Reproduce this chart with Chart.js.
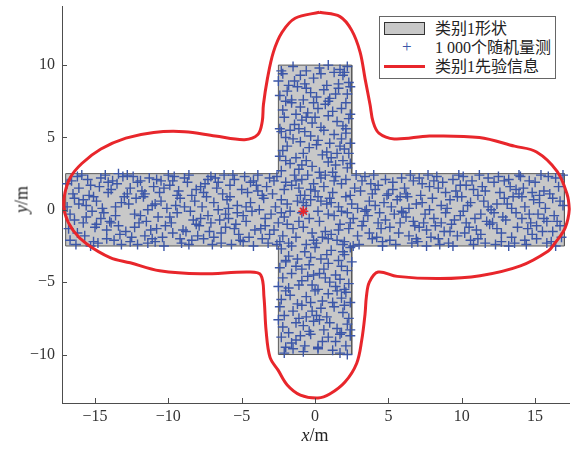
<!DOCTYPE html>
<html lang="zh">
<head>
<meta charset="UTF-8">
<title>类别1形状与随机量测</title>
<script src="https://cdn.jsdelivr.net/npm/chart.js@4.4.1/dist/chart.umd.min.js"></script>
<style>
  html, body { margin: 0; padding: 0; background: #fff; }
  #wrap { position: relative; width: 577px; height: 458px; }
  #chart { position: absolute; left: 0; top: 0; }
  .serif { font-family: "Liberation Serif", "Noto Sans CJK SC", serif; color: #222; }
  #legend { position: absolute; left: 379px; top: 16px; width: 177px; height: 63px;
    border: 1px solid #666; background: #fff; box-sizing: border-box; font-size: 16px; }
  #legend .row { position: absolute; left: 0; width: 100%; height: 19px; line-height: 19px; }
  #legend .lbl { position: absolute; left: 55px; top: 0; white-space: nowrap; }
  #legend .patch { position: absolute; left: 4px; top: 3px; width: 41px; height: 13px;
    background: #c8c8c8; border: 1px solid #333; box-sizing: border-box; }
  #legend .plus { position: absolute; left: 22px; top: -1px; color: #3b56a8; font-size: 17px; }
  #legend .redline { position: absolute; left: 4px; top: 8px; width: 41px; height: 3px; background: #e8262b; }
  #xtitle { position: absolute; left: 290px; top: 425px; width: 50px; text-align: center; font-size: 18px; }
  #ytitle { position: absolute; left: -3px; top: 189px; width: 50px; text-align: center; font-size: 18px;
    transform: rotate(-90deg); }
</style>
</head>
<body>
<div id="wrap">
  <canvas id="chart" width="577" height="458"></canvas>
  <div id="legend" class="serif">
    <div class="row" style="top:2px"><span class="patch"></span><span class="lbl">类别1形状</span></div>
    <div class="row" style="top:21px"><span class="plus">+</span><span class="lbl">1 000个随机量测</span></div>
    <div class="row" style="top:40px"><span class="redline"></span><span class="lbl">类别1先验信息</span></div>
  </div>
  <div id="xtitle" class="serif"><i>x</i>/m</div>
  <div id="ytitle" class="serif"><i>y</i>/m</div>
</div>

<script>
  // axis ticks
  const tickX = [-15, -10, -5, 0, 5, 10, 15];
  const tickY = [-10, -5, 0, 5, 10];

  // cross shape outline (closed)
  const shapeX = [-17, -17, -2.5, -2.5, 2.5, 2.5, 17, 17, 2.5, 2.5, -2.5, -2.5, -17];
  const shapeY = [-2.5, 2.5, 2.5, 10, 10, 2.5, 2.5, -2.5, -2.5, -10, -10, -2.5, -2.5];

  // prior information contour (clockwise from the top)
  const priorX = [0.3, 1.7, 2.5, 3.07, 3.41, 3.75, 3.95, 4.35, 5.4, 7.8, 11.2, 13.6, 15.1, 16.5, 17.18, 17.33,
    17.04, 16.36, 15.9, 14.0, 11.25, 8.5, 5.6, 4.3, 3.7, 3.5, 3.41, 3.18, 2.84, 2.04, 1.0, 0.2,
    -1.0, -1.9, -2.52, -3.07, -3.34, -3.48, -3.7, -4.5, -7.8, -10.6, -12.6, -13.97, -15.56, -16.47, -17.04,
    -17.11, -16.7, -15.9, -14.6, -12.9, -11.0, -8.9, -6.8, -4.8, -3.9, -3.6, -3.52, -3.25, -2.84, -2.25, -1.36, 0.3];
  const priorY = [13.65, 13.35, 12.4, 10.9, 9.05, 7.26, 6.1, 5.3, 4.9, 5.1, 5.0, 4.4, 4.0, 2.66, 1.08, 0.05,
    -1.26, -2.29, -2.84, -3.87, -4.55, -4.75, -4.6, -4.3, -5.0, -6.0, -7.17, -9.02, -10.6, -11.9, -12.73, -13.0,
    -12.8, -12.1, -11.08, -10.2, -8.33, -6.06, -4.5, -4.3, -4.42, -4.21, -3.66, -3.3, -2.36, -1.46, -0.3,
    0.82, 2.2, 3.2, 4.2, 4.95, 5.35, 5.4, 5.1, 4.85, 5.2, 6.1, 7.26, 9.05, 10.9, 12.27, 13.24, 13.65];

  // prior centre (red star)
  const centreX = [-0.8];
  const centreY = [-0.1];

  // random measurements [x, y]
  const measPoints = [
    [-16.9,1.8],[-16.4,-0.7],[-16.2,2.3],[-16.7,-2.1],[-16.1,0.4],[-16.8,-1.3],[-16.5,1.1],[-16.3,-2.4],[-16.9,0.2],[-16.6,2.0],[-16.2,-1.6],[-16.4,0.8],[-16.7,-0.3],[-16.1,1.5],
    [-15.8,-0.9],[-15.3,1.7],[-15.1,-2.2],[-15.6,0.3],[-15.9,2.4],[-15.2,-0.1],[-15.7,-1.8],[-15.4,1.0],[-15.0,-1.2],[-15.5,2.1],[-15.8,0.7],[-15.3,-2.5],[-15.1,0.9],[-15.6,-0.5],
    [-14.9,0.6],[-14.2,-1.4],[-14.6,2.2],[-14.1,1.2],[-14.8,-2.3],[-14.4,-0.2],[-14.7,1.6],[-14.0,-0.8],[-14.3,2.4],[-14.9,-1.0],[-14.5,0.1],[-14.2,-2.0],[-14.6,-0.6],[-14.1,1.9],
    [-13.7,-2.1],[-13.2,0.5],[-13.9,1.4],[-13.4,-1.1],[-13.1,2.3],[-13.6,-0.4],[-13.8,2.0],[-13.3,-1.7],[-13.0,0.9],[-13.5,1.8],[-13.9,-0.9],[-13.2,-2.4],[-13.6,0.2],[-13.4,2.5],
    [-12.8,1.1],[-12.3,-0.3],[-12.6,-2.2],[-12.1,1.9],[-12.9,-1.5],[-12.4,2.3],[-12.7,0.4],[-12.0,-0.9],[-12.5,-1.9],[-12.2,0.8],[-12.8,2.4],[-12.3,-1.2],[-12.6,1.5],[-12.1,-2.4],
    [-11.9,-0.4],[-11.3,2.2],[-11.6,-1.8],[-11.1,0.3],[-11.8,1.3],[-11.4,-2.3],[-11.7,0.9],[-11.0,1.6],[-11.5,-0.8],[-11.2,-1.4],[-11.9,2.0],[-11.4,0.0],[-11.6,1.1],[-11.1,-2.0],
    [-10.8,2.1],[-10.2,-1.1],[-10.5,0.6],[-10.9,-2.2],[-10.3,1.5],[-10.7,-0.5],[-10.0,2.4],[-10.4,-1.9],[-10.6,1.2],[-10.1,0.1],[-10.8,-1.3],[-10.3,-2.5],[-10.5,2.0],[-10.9,0.4],
    [-9.7,-1.6],[-9.2,0.8],[-9.9,1.7],[-9.4,-0.2],[-9.1,-2.3],[-9.6,2.3],[-9.8,-0.9],[-9.3,1.3],[-9.0,-1.4],[-9.5,0.3],[-9.7,2.0],[-9.2,-2.0],[-9.4,1.0],[-9.9,-0.5],
    [-8.9,0.2],[-8.4,-2.1],[-8.1,1.4],[-8.6,2.4],[-8.3,-0.7],[-8.8,-1.5],[-8.2,0.6],[-8.7,1.9],[-8.0,-1.8],[-8.5,-0.1],[-8.9,2.2],[-8.4,1.0],[-8.6,-2.4],[-8.1,-1.0],
    [-7.8,1.6],[-7.3,-0.4],[-7.6,-2.0],[-7.1,2.3],[-7.9,-1.1],[-7.4,0.9],[-7.7,0.2],[-7.0,-2.4],[-7.5,1.8],[-7.2,-1.5],[-7.8,-0.6],[-7.3,2.1],[-7.6,1.2],[-7.1,-0.9],
    [-6.9,-1.9],[-6.3,1.1],[-6.6,0.0],[-6.1,-1.2],[-6.8,2.2],[-6.4,-2.3],[-6.7,1.5],[-6.0,0.7],[-6.5,-0.7],[-6.2,2.4],[-6.9,0.5],[-6.4,-1.6],[-6.6,1.9],[-6.1,-0.3],
    [-5.8,0.9],[-5.2,-1.7],[-5.5,2.1],[-5.9,-0.6],[-5.3,0.3],[-5.7,-2.4],[-5.0,1.4],[-5.4,-1.0],[-5.6,2.4],[-5.1,-2.1],[-5.8,1.7],[-5.3,-0.2],[-5.5,-1.3],[-5.9,0.1],
    [-4.7,-0.8],[-4.2,2.0],[-4.9,-2.2],[-4.4,0.5],[-4.1,-1.4],[-4.6,1.2],[-4.8,2.3],[-4.3,-0.1],[-4.0,1.7],[-4.5,-1.9],[-4.7,0.2],[-4.2,-2.5],[-4.4,1.9],[-4.9,-0.4],
    [-3.9,1.3],[-3.4,-0.6],[-3.1,2.2],[-3.6,-2.0],[-3.8,0.0],[-3.3,1.6],[-3.7,-1.3],[-3.0,-0.3],[-3.5,0.8],[-3.2,-2.3],[-3.9,2.4],[-3.4,-1.1],[-3.6,1.0],[-3.1,-1.7],
    [-2.8,-1.4],[-2.3,0.7],[-2.6,2.3],[-2.1,-0.5],[-2.9,1.1],[-2.4,-2.2],[-2.7,0.2],[-2.0,1.9],[-2.5,-0.9],[-2.2,-1.8],[-2.8,2.0],[-2.3,-0.2],[-2.6,-2.4],[-2.1,1.4],
    [-1.9,0.4],[-1.3,-1.9],[-1.6,1.7],[-1.1,-0.8],[-1.8,-2.3],[-1.4,2.4],[-1.7,-0.1],[-1.0,1.0],[-1.5,-1.3],[-1.2,0.6],[-1.9,-1.0],[-1.3,2.0],[-1.6,-2.5],[-1.1,1.5],
    [-0.8,-1.2],[-0.3,1.4],[-0.6,0.3],[-0.1,-2.1],[-0.9,2.1],[-0.4,-0.6],[-0.7,1.0],[-0.2,-1.6],[-0.5,2.4],[-0.9,-0.2],[-0.3,0.7],[-0.6,-2.4],[-0.1,1.8],[-0.8,0.5],
    [0.2,0.9],[0.7,-1.5],[0.4,2.2],[0.9,-0.3],[0.1,-2.3],[0.6,1.6],[0.3,-0.8],[0.8,0.4],[0.5,-1.9],[0.0,1.3],[0.7,2.4],[0.2,-0.1],[0.9,-2.0],[0.4,0.6],
    [1.3,-0.4],[1.8,1.8],[1.1,-1.7],[1.6,0.2],[1.9,-2.4],[1.4,2.3],[1.0,0.8],[1.7,-1.0],[1.2,1.2],[1.5,-2.1],[1.8,-0.1],[1.3,2.0],[1.6,-1.4],[1.1,0.5],
    [2.1,2.1],[2.6,-0.6],[2.4,1.0],[2.9,-1.8],[2.2,-0.2],[2.7,1.5],[2.0,-2.2],[2.5,0.4],[2.8,2.4],[2.3,-1.3],[2.6,-2.5],[2.1,0.9],[2.9,0.1],[2.4,-0.9],
    [3.2,-1.1],[3.7,0.6],[3.4,2.3],[3.9,-2.0],[3.1,1.3],[3.6,-0.4],[3.0,-2.4],[3.8,1.8],[3.3,-0.8],[3.5,0.0],[3.9,1.1],[3.2,2.0],[3.7,-1.6],[3.4,-0.1],
    [4.1,0.3],[4.6,-2.2],[4.3,1.7],[4.8,-0.7],[4.0,2.4],[4.5,-1.3],[4.9,1.0],[4.2,-1.9],[4.7,0.5],[4.4,-0.2],[4.1,1.4],[4.8,2.1],[4.6,-2.5],[4.3,-0.9],
    [5.3,1.9],[5.8,-0.9],[5.1,-2.1],[5.6,0.7],[5.9,2.2],[5.4,-0.3],[5.0,1.1],[5.7,-1.6],[5.2,0.2],[5.5,-2.4],[5.9,-0.1],[5.3,1.4],[5.8,0.9],[5.1,-1.2],
    [6.2,-0.5],[6.7,2.0],[6.4,-1.8],[6.9,0.4],[6.1,1.5],[6.6,-2.3],[6.3,0.9],[6.8,-1.1],[6.0,-0.2],[6.5,2.4],[6.2,1.1],[6.9,-2.0],[6.4,0.1],[6.7,-0.8],
    [7.1,2.2],[7.6,-1.4],[7.3,0.5],[7.8,1.6],[7.0,-2.2],[7.5,-0.3],[7.9,-1.9],[7.2,1.0],[7.7,2.4],[7.4,-0.9],[7.1,-1.2],[7.8,0.0],[7.3,1.8],[7.6,-2.5],
    [8.4,-2.0],[8.9,1.2],[8.1,-0.6],[8.6,0.3],[8.3,2.3],[8.8,-1.5],[8.0,0.8],[8.5,-2.4],[8.7,1.9],[8.2,-1.1],[8.9,-0.2],[8.4,1.5],[8.6,-0.9],[8.1,2.0],
    [9.2,0.7],[9.7,-1.8],[9.4,2.1],[9.9,-0.4],[9.1,-2.3],[9.6,1.3],[9.3,-1.0],[9.8,2.4],[9.0,0.1],[9.5,-0.7],[9.7,0.9],[9.2,-1.5],[9.4,-2.5],[9.9,1.7],
    [10.3,-0.9],[10.8,1.4],[10.1,2.3],[10.6,-2.1],[10.4,0.3],[10.9,-0.6],[10.2,-1.6],[10.7,2.0],[10.0,0.9],[10.5,-1.2],[10.8,-2.4],[10.3,1.7],[10.6,0.5],[10.1,-0.1],
    [11.1,1.0],[11.6,-2.3],[11.3,-0.3],[11.8,2.2],[11.0,-1.4],[11.5,0.6],[11.9,-1.0],[11.2,2.4],[11.7,-0.8],[11.4,1.6],[11.1,-2.0],[11.8,0.2],[11.3,-1.7],[11.6,1.3],
    [12.4,-1.3],[12.9,0.8],[12.2,1.9],[12.7,-2.2],[12.0,0.0],[12.5,2.3],[12.8,-0.5],[12.3,-2.4],[12.6,1.2],[12.1,-0.9],[12.9,2.0],[12.4,0.4],[12.7,-1.6],[12.2,-0.2],
    [13.2,2.1],[13.7,-0.2],[13.4,-1.9],[13.9,1.1],[13.1,0.4],[13.6,-2.3],[13.3,1.6],[13.8,-1.2],[13.0,-0.7],[13.5,0.9],[13.9,2.4],[13.2,-2.5],[13.7,1.4],[13.4,0.1],
    [14.3,0.2],[14.8,-1.7],[14.1,-0.6],[14.6,2.0],[14.4,-2.4],[14.9,0.7],[14.2,1.5],[14.7,-0.9],[14.0,2.3],[14.5,-1.3],[14.8,1.2],[14.3,-2.1],[14.6,-0.3],[14.1,0.9],
    [15.1,-2.0],[15.6,1.3],[15.3,0.5],[15.8,-0.8],[15.0,1.9],[15.5,-1.5],[15.9,2.3],[15.2,-0.3],[15.7,0.1],[15.4,2.4],[15.1,-1.1],[15.8,-2.3],[15.3,1.0],[15.6,-0.6],
    [16.2,0.8],[16.7,-1.1],[16.4,2.2],[16.9,0.3],[16.1,-2.2],[16.6,1.6],[16.3,-0.4],[16.8,-1.9],[16.0,1.1],[16.5,-0.8],[16.9,2.4],[16.2,-1.5],[16.7,0.6],[16.4,-2.5],
    // upper arm
    [-2.3,2.7],[1.4,3.1],[-0.6,3.4],[2.2,2.9],[0.3,2.6],[-1.7,3.2],[0.9,3.3],[-1.1,2.8],[1.9,3.4],[-0.2,3.0],[-2.0,3.4],[1.2,2.6],[-0.9,3.1],[2.4,3.2],
    [0.5,3.8],[-2.2,4.1],[1.7,4.4],[-1.3,3.6],[2.3,3.9],[-0.4,4.3],[0.8,4.0],[-1.9,4.4],[1.1,3.6],[-0.8,3.9],[2.0,4.2],[-2.4,3.7],[0.1,4.5],[1.5,3.9],
    [-1.5,4.9],[2.1,5.3],[-0.3,5.1],[1.0,4.6],[-2.3,5.4],[0.6,5.5],[-1.0,4.7],[1.8,4.9],[-2.0,5.0],[0.2,4.8],[2.4,4.6],[-0.7,5.4],[1.3,5.2],[-1.7,5.5],
    [1.9,5.8],[-0.9,6.2],[0.4,5.7],[-2.1,6.4],[2.3,6.3],[-1.4,5.9],[0.9,6.5],[-0.2,6.0],[1.5,6.1],[-2.4,5.6],[0.0,6.4],[-1.1,5.6],[2.1,5.6],[-0.6,6.4],
    [-2.2,6.9],[0.7,7.3],[-0.5,6.7],[1.8,7.0],[-1.6,7.4],[2.4,6.6],[0.2,7.0],[-1.0,7.1],[1.2,6.8],[-2.0,7.5],[0.9,7.5],[-0.1,7.4],[2.1,7.4],[-1.3,6.6],
    [0.1,7.8],[-1.9,8.2],[1.6,8.4],[-0.8,7.6],[2.2,8.0],[-2.4,7.9],[0.6,8.3],[-1.2,8.5],[1.0,7.7],[-0.3,8.1],[2.4,8.5],[-1.6,7.6],[1.4,8.0],[-0.6,8.4],
    [-1.4,8.9],[1.9,9.3],[-0.1,9.1],[0.8,8.6],[-2.2,9.4],[2.3,8.8],[-0.7,8.7],[1.3,9.5],[-1.8,8.6],[0.4,9.4],[-2.5,8.9],[1.6,8.7],[-1.0,9.3],[2.0,9.5],
    [0.3,9.8],[-1.5,9.9],[1.7,9.7],[-2.3,9.6],[0.9,10.0],[-0.6,9.6],[2.2,9.9],
    // lower arm
    [1.1,-2.8],[-1.8,-3.2],[0.4,-3.4],[-2.3,-2.7],[2.0,-3.1],[-0.7,-2.9],[1.6,-3.5],[-1.2,-3.4],[0.0,-2.6],[2.4,-2.6],[-2.0,-3.5],[0.8,-3.1],[-0.3,-3.3],[1.9,-2.9],
    [-0.4,-3.8],[2.2,-4.2],[-1.6,-4.4],[0.9,-3.7],[-2.4,-4.0],[1.4,-4.5],[-0.9,-4.1],[0.3,-4.4],[-2.0,-3.6],[1.8,-3.9],[-1.3,-3.9],[2.5,-3.6],[0.6,-4.1],[-0.1,-4.5],
    [1.7,-4.8],[-1.1,-5.2],[0.2,-5.5],[-2.2,-4.7],[2.3,-5.1],[-0.5,-4.6],[1.0,-5.0],[-1.8,-5.4],[0.7,-4.7],[-0.2,-5.2],[2.0,-5.5],[-2.5,-5.3],[1.4,-5.3],[-0.9,-4.9],
    [-1.7,-5.9],[0.5,-6.3],[2.1,-5.7],[-0.6,-6.0],[1.2,-6.4],[-2.3,-6.2],[0.0,-5.6],[1.8,-6.1],[-1.2,-6.5],[2.4,-6.4],[-0.3,-6.4],[0.9,-5.8],[-2.0,-5.6],[1.5,-5.6],
    [0.4,-6.8],[-2.1,-7.3],[1.9,-7.1],[-0.9,-6.6],[2.3,-7.5],[-1.5,-7.0],[0.8,-7.4],[-0.2,-7.0],[1.3,-6.7],[-2.4,-6.7],[-0.6,-7.4],[2.0,-6.6],[-1.1,-7.5],[0.1,-7.3],
    [-1.3,-7.8],[1.5,-8.2],[-0.4,-8.4],[2.2,-7.9],[0.3,-7.6],[-2.2,-8.1],[1.0,-7.8],[-0.8,-8.0],[1.8,-8.5],[-1.8,-8.5],[0.6,-8.3],[-2.5,-7.6],[2.4,-8.3],[-0.1,-7.7],
    [0.9,-8.8],[-1.6,-9.2],[2.1,-9.4],[-0.3,-8.6],[1.4,-9.1],[-2.3,-8.8],[0.2,-9.5],[-1.0,-8.7],[2.4,-8.7],[-0.7,-9.4],[1.7,-8.6],[-2.0,-9.5],[0.5,-9.1],[-1.3,-9.0],
    [-0.8,-9.8],[1.2,-9.7],[-2.1,-9.9],[2.2,-10.0],[0.2,-9.6],[-1.5,-9.6],[1.7,-9.9]
  ];

  const toXY = (xs, ys) => xs.map((x, i) => ({ x: x, y: ys[i] }));
  const fmt = v => v < 0 ? '\u2212' + Math.abs(v) : String(v);

  // MATLAB-style ticks pointing into the plot
  const inwardTicks = {
    id: 'inwardTicks',
    afterDraw(chart) {
      const { ctx, chartArea, scales } = chart;
      ctx.save();
      ctx.strokeStyle = '#4d4d4d';
      ctx.lineWidth = 1;
      ctx.beginPath();
      tickX.forEach(v => {
        const px = Math.round(scales.x.getPixelForValue(v)) + 0.5;
        ctx.moveTo(px, chartArea.bottom);
        ctx.lineTo(px, chartArea.bottom - 5);
      });
      tickY.forEach(v => {
        const py = Math.round(scales.y.getPixelForValue(v)) + 0.5;
        ctx.moveTo(chartArea.left, py);
        ctx.lineTo(chartArea.left + 5, py);
      });
      ctx.stroke();
      ctx.restore();
    }
  };

  const tickFont = { family: 'Liberation Serif', size: 16 };

  new Chart(document.getElementById('chart'), {
    type: 'scatter',
    data: {
      datasets: [
        {
          label: '类别1先验中心',
          data: toXY(centreX, centreY),
          pointStyle: 'star',
          pointRadius: 5,
          borderColor: '#e8262b',
          borderWidth: 1.5,
          order: 0
        },
        {
          label: '类别1先验信息',
          data: toXY(priorX, priorY),
          showLine: true,
          tension: 0.35,
          pointRadius: 0,
          borderColor: '#e8262b',
          borderWidth: 3,
          clip: false,
          order: 1
        },
        {
          label: '1 000个随机量测',
          data: measPoints.map(p => ({ x: p[0], y: p[1] })),
          pointStyle: 'cross',
          pointRadius: 5,
          borderColor: '#3b56a8',
          borderWidth: 1.4,
          order: 2
        },
        {
          label: '类别1形状',
          data: toXY(shapeX, shapeY),
          showLine: true,
          tension: 0,
          pointRadius: 0,
          borderColor: '#5a5a5a',
          borderWidth: 1,
          backgroundColor: '#c8c8c8',
          fill: 'shape',
          order: 3
        }
      ]
    },
    options: {
      responsive: false,
      animation: false,
      devicePixelRatio: 1,
      layout: { padding: { left: 0, right: 8, top: 4, bottom: 0 } },
      plugins: { legend: { display: false }, tooltip: { enabled: false } },
      scales: {
        x: {
          type: 'linear',
          min: -17.25,
          max: 17.31,
          afterBuildTicks: s => { s.ticks = tickX.map(v => ({ value: v })); },
          afterFit: s => { s.height = 55; s.paddingLeft = 0; s.paddingRight = 0; },
          grid: { display: false, drawTicks: false },
          border: { display: true, color: '#4d4d4d', width: 1 },
          ticks: { padding: 4, color: '#333', font: tickFont, callback: v => fmt(v) }
        },
        y: {
          type: 'linear',
          min: -13.35,
          max: 14.05,
          afterBuildTicks: s => { s.ticks = tickY.map(v => ({ value: v })); },
          afterFit: s => { s.width = 62; s.paddingTop = 0; s.paddingBottom = 0; },
          grid: { display: false, drawTicks: false },
          border: { display: true, color: '#4d4d4d', width: 1 },
          ticks: { padding: 7, color: '#333', font: tickFont, callback: v => fmt(v) }
        }
      }
    },
    plugins: [inwardTicks]
  });
</script>
</body>
</html>
